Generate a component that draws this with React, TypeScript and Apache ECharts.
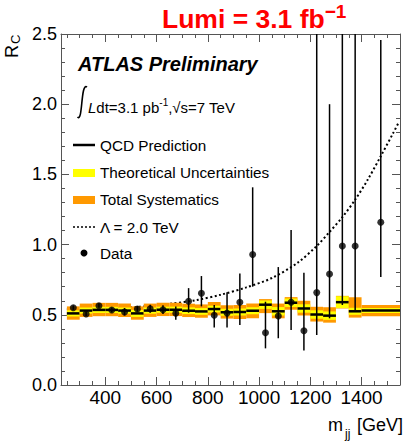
import React, { useEffect, useRef } from 'react';
import * as echarts from 'echarts';

// ---------- data ----------
const X_MIN = 227;
const X_MAX = 1550;
const X_MAJOR = [400, 600, 800, 1000, 1200, 1400];
const X_MINOR = [250, 300, 350, 450, 500, 550, 650, 700, 750, 850, 900, 950, 1050, 1100, 1150, 1250, 1300, 1350, 1450, 1500];

// data points (bin centres, GeV) and ratio with error bars
const MASS = [275, 325, 375, 425, 475, 525, 575, 625, 675, 725, 775, 825, 875, 925, 975, 1025, 1075, 1125, 1175, 1225, 1275, 1325, 1375, 1475];
const DATA_R = [0.55, 0.506, 0.565, 0.534, 0.52, 0.541, 0.543, 0.536, 0.511, 0.596, 0.653, 0.497, 0.512, 0.589, 0.929, 0.372, 0.491, 0.589, 0.387, 0.658, 0.79, 0.99, 0.99, 1.159];
const DATA_LO = [0.535, 0.492, 0.55, 0.517, 0.495, 0.522, 0.515, 0.505, 0.465, 0.515, 0.56, 0.41, 0.41, 0.428, 0.7, 0.261, 0.333, 0.392, 0.245, 0.356, 0.475, 0.57, 0.534, 0.77];
const DATA_HI = [0.567, 0.522, 0.582, 0.552, 0.548, 0.562, 0.572, 0.568, 0.56, 0.69, 0.776, 0.57, 0.66, 0.795, 1.408, 0.593, 0.84, 1.104, 0.8, 2.5, 2.0, 2.5, 2.5, 2.457];

// QCD prediction bins
const BIN_LO = [250, 300, 350, 400, 450, 500, 550, 600, 650, 700, 750, 800, 850, 900, 950, 1000, 1050, 1100, 1150, 1200, 1250, 1300, 1350, 1400];
const BIN_HI = [300, 350, 400, 450, 500, 550, 600, 650, 700, 750, 800, 850, 900, 950, 1000, 1050, 1100, 1150, 1200, 1250, 1300, 1350, 1400, 1550];
const QCD = [0.51, 0.53, 0.535, 0.535, 0.53, 0.51, 0.53, 0.536, 0.536, 0.529, 0.524, 0.541, 0.518, 0.52, 0.529, 0.572, 0.525, 0.586, 0.545, 0.502, 0.494, 0.59, 0.525, 0.53];
const THEO = [0.022, 0.022, 0.022, 0.022, 0.022, 0.025, 0.022, 0.022, 0.022, 0.024, 0.024, 0.024, 0.025, 0.025, 0.025, 0.03, 0.03, 0.03, 0.03, 0.03, 0.03, 0.042, 0.025, 0.018];
const SYS_UP = [0.05, 0.05, 0.05, 0.05, 0.05, 0.05, 0.05, 0.05, 0.05, 0.05, 0.05, 0.05, 0.05, 0.05, 0.052, 0.04, 0.055, 0.04, 0.055, 0.055, 0.06, 0.045, 0.1, 0.04];
const SYS_DN = [0.045, 0.045, 0.045, 0.045, 0.045, 0.045, 0.045, 0.045, 0.045, 0.045, 0.045, 0.045, 0.045, 0.05, 0.054, 0.06, 0.05, 0.05, 0.05, 0.05, 0.05, 0.045, 0.045, 0.04];

// Lambda = 2.0 TeV contact-interaction curve
const CURVE_M = [250, 400, 500, 550, 650, 750, 850, 950, 1050, 1150, 1225, 1275, 1325, 1375, 1425, 1475, 1525, 1545];
const CURVE_R = [0.54, 0.545, 0.553, 0.56, 0.578, 0.603, 0.643, 0.695, 0.762, 0.87, 0.99, 1.09, 1.195, 1.32, 1.465, 1.63, 1.8, 1.87];

const LEGEND_LABELS = ['QCD Prediction', 'Theoretical Uncertainties', 'Total Systematics', '\u039B = 2.0 TeV', 'Data'];

const FONT = 'Liberation Sans';
const AXIS_COLOR = '#555';
const ORANGE = '#ff9900';
const YELLOW = '#ffff00';

function buildOption(): any {
  const axisBase = {
    type: 'value',
    min: X_MIN,
    max: X_MAX,
    gridIndex: 0,
    splitLine: { show: false },
  };
  const bandData = BIN_LO.map((lo, i) => [lo, BIN_HI[i], QCD[i], SYS_DN[i], SYS_UP[i], THEO[i]]);
  const errData = MASS.map((m, i) => [m, DATA_LO[i], DATA_HI[i]]);
  const dotData = MASS.map((m, i) => [m, DATA_R[i]]);
  const curveData = CURVE_M.map((m, i) => [m, CURVE_R[i]]);
  const legendY = [145, 172.5, 199.5, 227, 253];

  return {
    animation: false,
    backgroundColor: '#fff',
    grid: { left: 61, right: 7, top: 34, bottom: 61, containLabel: false },
    xAxis: [
      {
        ...axisBase,
        position: 'bottom',
        axisLine: { show: true, lineStyle: { color: AXIS_COLOR, width: 1 } },
        axisTick: { show: true, inside: true, length: 8, customValues: X_MAJOR, lineStyle: { color: AXIS_COLOR } },
        axisLabel: {
          show: true,
          customValues: X_MAJOR,
          fontSize: 19,
          color: '#000',
          fontFamily: FONT,
          margin: 3,
          formatter: (v: number) => String(Math.round(v)),
        },
      },
      {
        ...axisBase,
        position: 'bottom',
        axisLine: { show: false },
        axisTick: { show: true, inside: true, length: 4, customValues: X_MINOR, lineStyle: { color: AXIS_COLOR } },
        axisLabel: { show: false, customValues: X_MINOR },
      },
      {
        ...axisBase,
        position: 'top',
        axisLine: { show: true, lineStyle: { color: AXIS_COLOR, width: 1 } },
        axisTick: { show: true, inside: true, length: 8, customValues: X_MAJOR, lineStyle: { color: AXIS_COLOR } },
        axisLabel: { show: false, customValues: X_MAJOR },
      },
      {
        ...axisBase,
        position: 'top',
        axisLine: { show: false },
        axisTick: { show: true, inside: true, length: 4, customValues: X_MINOR, lineStyle: { color: AXIS_COLOR } },
        axisLabel: { show: false, customValues: X_MINOR },
      },
    ],
    yAxis: [
      {
        type: 'value',
        min: 0,
        max: 2.5,
        interval: 0.5,
        position: 'left',
        splitLine: { show: false },
        axisLine: { show: true, lineStyle: { color: AXIS_COLOR, width: 1 } },
        axisTick: { show: true, inside: true, length: 8, lineStyle: { color: AXIS_COLOR } },
        minorTick: { show: true, splitNumber: 5, length: 4, lineStyle: { color: AXIS_COLOR } },
        axisLabel: {
          fontSize: 18,
          color: '#000',
          fontFamily: FONT,
          margin: 4,
          formatter: (v: number) => v.toFixed(1),
        },
      },
      {
        type: 'value',
        min: 0,
        max: 2.5,
        interval: 0.5,
        position: 'right',
        splitLine: { show: false },
        axisLine: { show: true, lineStyle: { color: AXIS_COLOR, width: 1 } },
        axisTick: { show: true, inside: true, length: 8, lineStyle: { color: AXIS_COLOR } },
        minorTick: { show: true, splitNumber: 5, length: 4, lineStyle: { color: AXIS_COLOR } },
        axisLabel: { show: false },
      },
    ],
    series: [
      {
        name: 'Lambda = 2.0 TeV',
        type: 'line',
        xAxisIndex: 0,
        yAxisIndex: 0,
        data: curveData,
        smooth: 0.3,
        symbol: 'none',
        lineStyle: { color: '#000', width: 2, type: [2, 2.5] },
        z: 1,
      },
      {
        name: 'QCD band',
        type: 'custom',
        xAxisIndex: 0,
        yAxisIndex: 0,
        clip: true,
        z: 2,
        data: bandData,
        encode: { x: [0, 1], y: 2 },
        renderItem: (params: any, api: any) => {
          const lo = api.value(0);
          const hi = api.value(1);
          const q = api.value(2);
          const sd = api.value(3);
          const su = api.value(4);
          const th = api.value(5);
          const sTop = api.coord([lo, q + su]);
          const sBot = api.coord([hi, q - sd]);
          const tTop = api.coord([lo, q + th]);
          const tBot = api.coord([hi, q - th]);
          const l0 = api.coord([lo, q]);
          const l1 = api.coord([hi, q]);
          return {
            type: 'group',
            children: [
              {
                type: 'rect',
                shape: { x: sTop[0], y: sTop[1], width: sBot[0] - sTop[0], height: sBot[1] - sTop[1] },
                style: { fill: ORANGE },
              },
              {
                type: 'rect',
                shape: { x: tTop[0], y: tTop[1], width: tBot[0] - tTop[0], height: tBot[1] - tTop[1] },
                style: { fill: YELLOW },
              },
              {
                type: 'line',
                shape: { x1: l0[0], y1: l0[1], x2: l1[0], y2: l1[1] },
                style: { stroke: '#000', lineWidth: 2.5 },
              },
            ],
          };
        },
      },
      {
        name: 'Data errors',
        type: 'custom',
        xAxisIndex: 0,
        yAxisIndex: 0,
        clip: true,
        z: 3,
        data: errData,
        encode: { x: 0, y: [1, 2] },
        renderItem: (params: any, api: any) => {
          const m = api.value(0);
          const a = api.coord([m, api.value(1)]);
          const b = api.coord([m, api.value(2)]);
          return {
            type: 'line',
            shape: { x1: a[0], y1: a[1], x2: b[0], y2: b[1] },
            style: { stroke: '#000', lineWidth: 1.5 },
          };
        },
      },
      {
        name: 'Data',
        type: 'scatter',
        xAxisIndex: 0,
        yAxisIndex: 0,
        data: dotData,
        symbol: 'circle',
        symbolSize: 7,
        itemStyle: { color: '#000' },
        z: 4,
      },
    ],
    graphic: [
      // title
      {
        type: 'text',
        left: 162,
        top: 2,
        style: {
          text: '{t|Lumi = 3.1 fb}{s|\u22121}',
          rich: {
            t: { fontSize: 26.5, fontWeight: 'bold', fill: '#ff0000', fontFamily: FONT, verticalAlign: 'bottom', lineHeight: 30 },
            s: { fontSize: 19, fontWeight: 'bold', fill: '#ff0000', fontFamily: FONT, verticalAlign: 'top', lineHeight: 30 },
          },
        },
      },
      // y axis name R_C
      {
        type: 'text',
        x: 21,
        y: 58,
        rotation: Math.PI / 2,
        style: { text: 'R', fontSize: 18, fill: '#000', fontFamily: FONT, align: 'left', verticalAlign: 'bottom' },
      },
      {
        type: 'text',
        x: 22,
        y: 44,
        rotation: Math.PI / 2,
        style: { text: 'C', fontSize: 13, fill: '#000', fontFamily: FONT, align: 'left', verticalAlign: 'bottom' },
      },
      // x axis name m_jj [GeV]
      {
        type: 'text',
        x: 328,
        y: 434,
        style: { text: 'm', fontSize: 18, fill: '#000', fontFamily: FONT, align: 'left', verticalAlign: 'bottom' },
      },
      {
        type: 'text',
        x: 345,
        y: 440,
        style: { text: 'jj', fontSize: 12, fill: '#000', fontFamily: FONT, align: 'left', verticalAlign: 'bottom' },
      },
      {
        type: 'text',
        x: 357,
        y: 434,
        style: { text: '[GeV]', fontSize: 18, fill: '#000', fontFamily: FONT, align: 'left', verticalAlign: 'bottom' },
      },
      // ATLAS Preliminary
      {
        type: 'text',
        x: 78,
        y: 74,
        style: {
          text: 'ATLAS Preliminary',
          fontSize: 20,
          fontWeight: 'bold',
          fontStyle: 'italic',
          fill: '#000',
          fontFamily: FONT,
          align: 'left',
          verticalAlign: 'bottom',
        },
      },
      // integral sign drawn as a curve
      {
        type: 'bezierCurve',
        shape: { x1: 77.5, y1: 117, cpx1: 83, cpy1: 123, cpx2: 80.5, cpy2: 82, x2: 87, y2: 87 },
        style: { stroke: '#000', lineWidth: 1.6, fill: 'none' },
      },
      {
        type: 'text',
        x: 88,
        y: 115,
        style: {
          text: '{l|L}{n|dt=3.1 pb}{s|-1}{n|,\u221As=7 TeV}',
          align: 'left',
          verticalAlign: 'bottom',
          rich: {
            l: { fontSize: 15, fontStyle: 'italic', fill: '#000', fontFamily: FONT, verticalAlign: 'bottom', lineHeight: 18 },
            n: { fontSize: 15, fill: '#000', fontFamily: FONT, verticalAlign: 'bottom', lineHeight: 18 },
            s: { fontSize: 10, fill: '#000', fontFamily: FONT, verticalAlign: 'top', lineHeight: 18 },
          },
        },
      },
      // legend
      { type: 'line', shape: { x1: 73, y1: 145, x2: 95, y2: 145 }, style: { stroke: '#000', lineWidth: 2.5 } },
      { type: 'rect', shape: { x: 73, y: 169, width: 22, height: 8 }, style: { fill: YELLOW } },
      { type: 'rect', shape: { x: 73, y: 196, width: 22, height: 8 }, style: { fill: ORANGE } },
      { type: 'line', shape: { x1: 73, y1: 227, x2: 95, y2: 227 }, style: { stroke: '#000', lineWidth: 1.5, lineDash: [2, 2] } },
      { type: 'circle', shape: { cx: 84, cy: 253, r: 3.5 }, style: { fill: '#000' } },
      ...LEGEND_LABELS.map((t, i) => ({
        type: 'text',
        x: 100,
        y: legendY[i],
        style: { text: t, fontSize: 15.3, fill: '#000', fontFamily: FONT, align: 'left', verticalAlign: 'middle' },
      })),
    ],
  };
}

export default function App() {
  const ref = useRef<HTMLDivElement>(null);
  useEffect(() => {
    if (!ref.current) return;
    const chart = echarts.init(ref.current, null, { renderer: 'svg' });
    chart.setOption(buildOption());
    return () => {
      chart.dispose();
    };
  }, []);
  return (
    <div
      ref={ref}
      style={{ position: 'fixed', left: 0, top: 0, width: 407, height: 446, background: '#fff' }}
    />
  );
}
